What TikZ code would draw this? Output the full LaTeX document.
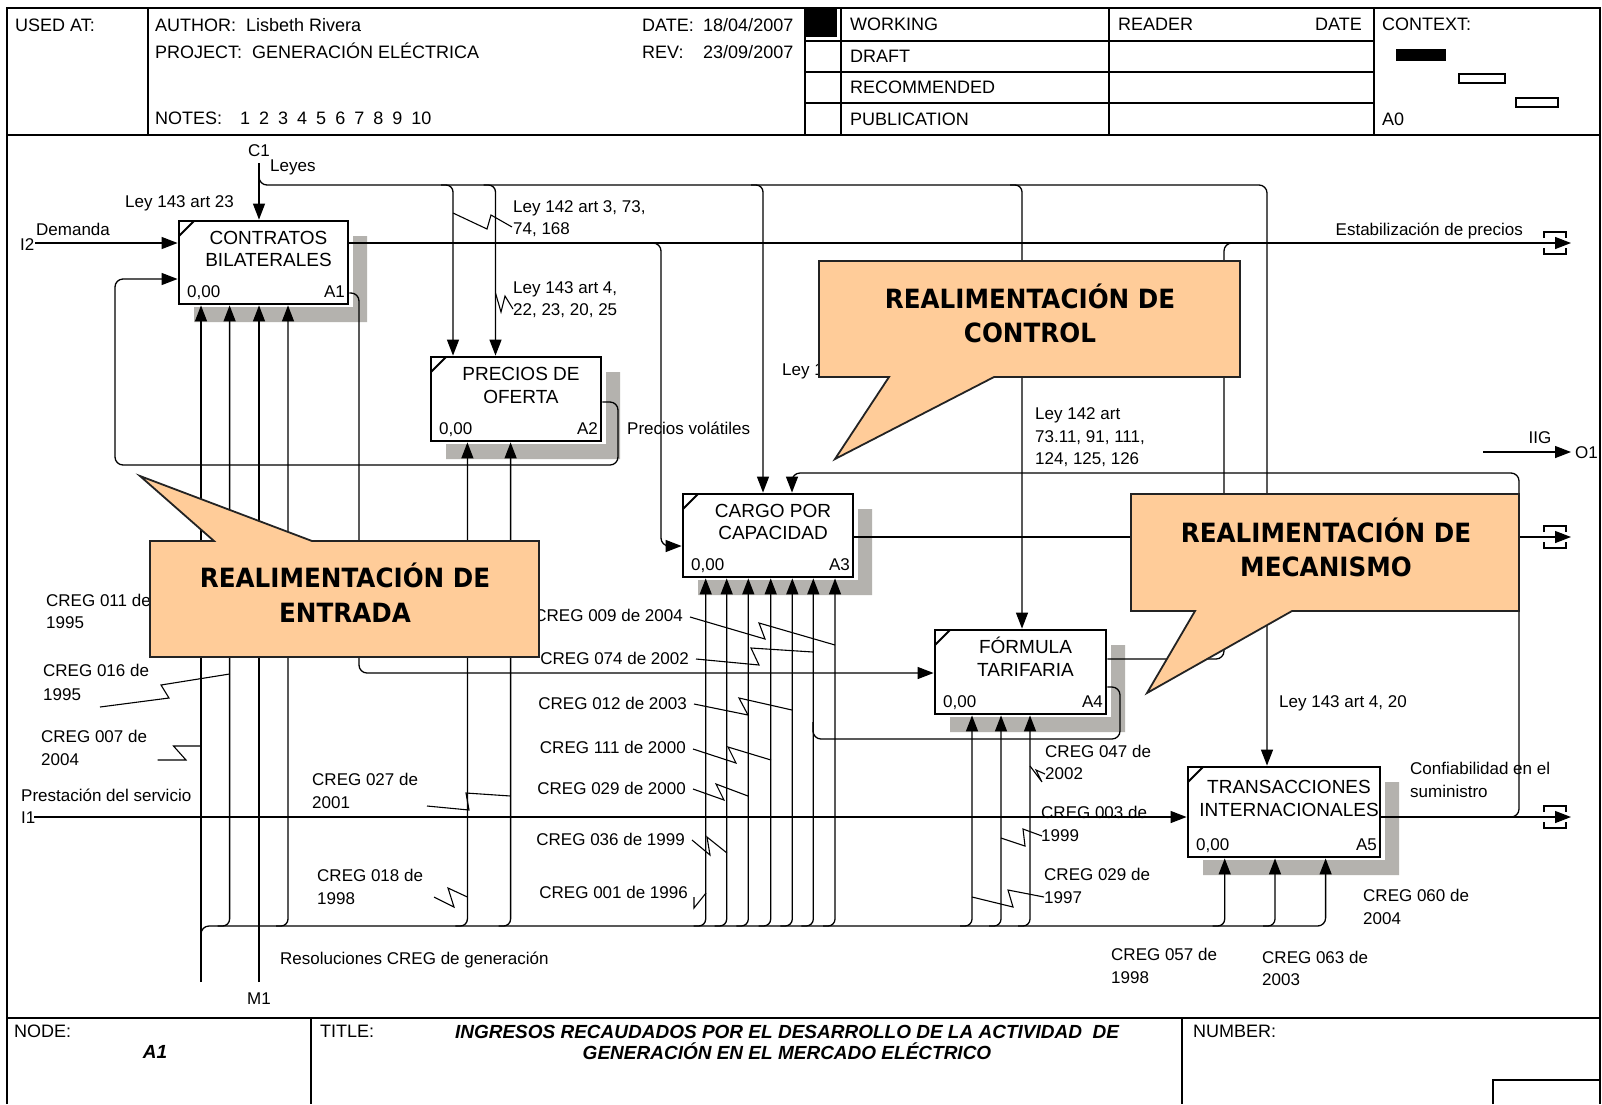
\documentclass[tikz,border=0pt]{standalone}
\usepackage{fontspec}
\setmainfont{Liberation Sans}
\newfontfamily\callfont[FakeStretch=0.93]{DejaVu Sans}
\usetikzlibrary{arrows.meta,calc}
\definecolor{peach}{RGB}{255,204,153}
\definecolor{shadowgray}{RGB}{180,178,174}
\definecolor{callborder}{RGB}{35,35,35}
\tikzset{
  hframe/.style={line width=1.8pt},
  conn/.style={line width=1.3pt},
  arr/.style={line width=1.3pt,-{Triangle[length=16pt,width=12pt]}},
  leadline/.style={line width=1.1pt},
  actbox/.style={draw,line width=2.8pt,fill=white,inner sep=0pt},
  lbl/.style={inner sep=0pt,anchor=base west,font=\fontsize{17}{20}\selectfont},
  lblr/.style={lbl,anchor=base east},
  lblc/.style={lbl,anchor=base},
  hdr/.style={inner sep=0pt,anchor=base west,font=\fontsize{18}{21}\selectfont},
  boxtxt/.style={inner sep=0pt,anchor=base,font=\fontsize{19}{22}\selectfont},
  callshape/.style={fill=peach,draw=callborder,line width=1.8pt,line join=miter},
  calltxt/.style={inner sep=0pt,anchor=base,font=\callfont\bfseries\fontsize{26.5}{32}\selectfont},
  ttl/.style={inner sep=0pt,anchor=base,font=\fontsize{19}{22}\selectfont\bfseries\itshape},
}
\newcommand{\idefshadow}[4]{%
  \fill[shadowgray] (#3+5,#2+15) -- (#3+19,#2+15) -- (#3+19,#4+18) -- (#1+15,#4+18) -- (#1+15,#4+3) -- (#3+5,#4+3) -- cycle;}
\newcommand{\idefbox}[8]{%
  \idefshadow{#2}{#3}{#4}{#5}
  \node[actbox,minimum width={#4-#2},minimum height={#5-#3}] (#1) at ({(#2+#4)/2},{(#3+#5)/2}) {};
  \draw[line width=2pt] (#2,#3+15) -- (#2+15,#3);
  \node[boxtxt] (#1-t1) at ({(#2+#4)/2+5},{(#3+#5)/2-25+6.8}) {#6};
  \node[boxtxt] (#1-t2) at ({(#2+#4)/2+5},{(#3+#5)/2-2.5+6.8}) {#7};
  \node[lbl] (#1-cost) at (#2+8,#5-7) {0,00};
  \node[lblr] (#1-num) at (#4-3,#5-7) {#8};
}
\begin{document}
\begin{tikzpicture}[x=1pt,y=-1pt]
\useasboundingbox (0,0) rectangle (1602,1104);
\fill[white] (0,0) rectangle (1602,1104);
% ---------- frame and header ----------
\draw[hframe] (7,1104) -- (7,8) -- (1600,8) -- (1600,1104);
\draw[hframe] (7,135) -- (1600,135);
\draw[hframe] (148,8) -- (148,135);
\draw[hframe] (805,8) -- (805,135);
\draw[hframe] (841,8) -- (841,135);
\draw[hframe] (1109,8) -- (1109,135);
\draw[hframe] (1374,8) -- (1374,135);
\foreach \yy in {40.7,71.7,103.3} \draw[hframe] (805,\yy) -- (1374,\yy);
\fill (805,8) rectangle (837,37);
\fill (1396,49) rectangle (1446,61);
\draw[line width=1.2pt] (1459,74) rectangle (1505,83);
\draw[line width=1.2pt] (1516,98) rectangle (1558,107);
\node[hdr] (h-used) at (15,31.5) {USED AT:};
\node[hdr] (h-author) at (155,31.5) {AUTHOR:\ \ Lisbeth Rivera};
\node[hdr] (h-date) at (642,31.5) {DATE:};
\node[hdr] (h-dateval) at (703,31.5) {18/04/2007};
\node[hdr] (h-project) at (155,58.5) {PROJECT:\ \ GENERACIÓN ELÉCTRICA};
\node[hdr] (h-rev) at (642,58.5) {REV:};
\node[hdr] (h-revval) at (703,58.5) {23/09/2007};
\node[hdr] (h-notes) at (155,124.5) {\spaceskip=0.5em NOTES:\ \ 1 2 3 4 5 6 7 8 9 10};
\node[hdr] (h-working) at (850,30.5) {WORKING};
\node[hdr] (h-draft) at (850,62.5) {DRAFT};
\node[hdr] (h-recom) at (850,93.5) {RECOMMENDED};
\node[hdr] (h-pub) at (850,125) {PUBLICATION};
\node[hdr] (h-reader) at (1118,30.5) {READER};
\node[hdr,anchor=base east] (h-rdate) at (1362,30.5) {DATE};
\node[hdr] (h-context) at (1382,30.5) {CONTEXT:};
\node[hdr] (h-a0) at (1382,125) {A0};
% ---------- footer ----------
\draw[hframe] (7,1018) -- (1600,1018);
\draw[hframe] (311,1018) -- (311,1104);
\draw[hframe] (1182,1018) -- (1182,1104);
\draw[hframe] (1493,1104) -- (1493,1080) -- (1600,1080);
\node[hdr] (f-node) at (14,1037.5) {NODE:};
\node[hdr] (f-title) at (320,1037.5) {TITLE:};
\node[hdr] (f-number) at (1193,1037.5) {NUMBER:};
\node[ttl] (f-a1) at (155,1058.5) {A1};
\node[ttl] (f-t1) at (787,1038) {INGRESOS RECAUDADOS POR EL DESARROLLO DE LA ACTIVIDAD\ \ DE};
\node[ttl] (f-t2) at (787,1059) {GENERACIÓN EN EL MERCADO ELÉCTRICO};
% ---------- activity boxes ----------
\idefbox{a1}{179}{221}{348}{304}{CONTRATOS}{BILATERALES}{A1}
\idefbox{a2}{431}{357}{601}{441}{PRECIOS DE}{OFERTA}{A2}
\idefbox{a3}{683}{494}{853}{577}{CARGO POR}{CAPACIDAD}{A3}
\idefbox{a4}{935}{630}{1106}{714}{FÓRMULA}{TARIFARIA}{A4}
\idefbox{a5}{1188}{767}{1380}{857}{TRANSACCIONES}{INTERNACIONALES}{A5}
% ---------- boundary points ----------
\coordinate (c1in) at (259,163);
\coordinate (i2in) at (35,243);
\coordinate (i1in) at (34,817);
\coordinate (m1in) at (259,982);
\coordinate (mbin) at (201,982);
\coordinate (o2out) at (1571,243);
\coordinate (o3out) at (1571,537);
\coordinate (o4out) at (1571,817);
\coordinate (o1in) at (1483,452);
\coordinate (o1out) at (1571,452);
% ---------- controls ----------
\draw[arr] (c1in) -- (a1.north -| c1in);
\draw[arr,rounded corners=8] (259,168) |- (1267,185) -- (a5.north -| 1267,0);
\foreach \x/\n in {453/a2,495.5/a2,763/a3,1022/a4}
  \draw[arr,rounded corners=7] (\x-12,185) -| (\n.north -| \x,0);
\draw[arr,rounded corners=8] (1500,817) -| (1519,473) -| (a3.north -| 792,0);
% ---------- inputs ----------
\draw[arr] (i2in) -- (a1.west |- i2in);
\draw[arr] (i1in) -- (a5.west |- i1in);
\draw[arr,rounded corners=8] (a2.east |- 0,402) -| (618,465) -| (115,279) -- (a1.west |- 0,279);
\draw[arr,rounded corners=8] (648,243) -| (661,546) -- (a3.west |- 0,546);
\draw[arr,rounded corners=8] (a1.east |- 0,293) -| (359,673) -- (a4.west |- 0,673);
% ---------- outputs ----------
\draw[arr] (a1.east |- 0,243) -- (o2out);
\draw[arr] (a3.east |- 0,537) -- (o3out);
\draw[arr] (a5.east |- 0,817) -- (o4out);
\draw[arr] (o1in) -- (o1out);
\draw[conn,rounded corners=8] (a4.east |- 0,659) -| (1224,243) -- (1240,243);
\draw[conn,rounded corners=8] (a4.east |- 0,687) -| (1120,739) -| (813,722);
\foreach \yy in {243,537,817} {
  \draw[line width=1.3pt] (1544,\yy-5) -- (1544,\yy-11) -- (1566,\yy-11) -- (1566,\yy-5);
  \draw[line width=1.3pt] (1544,\yy+5) -- (1544,\yy+11) -- (1566,\yy+11) -- (1566,\yy+5);
}
% ---------- mechanisms ----------
\draw[arr] (mbin) -- (a1.south -| mbin);
\draw[arr] (m1in) -- (a1.south -| m1in);
\draw[arr,rounded corners=8] (201,945) |- (1325.6,926) -- (a5.south -| 1325.6,0);
\foreach \x in {229.6,288} \draw[arr,rounded corners=7] (\x-12,926) -| (a1.south -| \x,0);
\foreach \x in {467.4,510.6} \draw[arr,rounded corners=7] (\x-12,926) -| (a2.south -| \x,0);
\foreach \x in {705.7,726.7,748.3,770.7,792.3,813.3,835} \draw[arr,rounded corners=7] (\x-12,926) -| (a3.south -| \x,0);
\foreach \x in {972,1001,1030} \draw[arr,rounded corners=7] (\x-12,926) -| (a4.south -| \x,0);
\foreach \x in {1224.7,1275} \draw[arr,rounded corners=7] (\x-12,926) -| (a5.south -| \x,0);
% ---------- squiggle leaders ----------
\draw[leadline] (453,213) -- (487,229) -- (491,215) -- (512,227);
\draw[leadline] (495.5,293) -- (501,312) -- (505,296) -- (513,309);
\draw[leadline] (100,707) -- (169,698) -- (161,685) -- (229.6,674);
\draw[leadline] (157.5,760) -- (186,760) -- (173.5,746) -- (201,746);
\draw[leadline] (427,806) -- (469,810) -- (466,793) -- (510.6,796);
\draw[leadline] (434,897) -- (454,907) -- (448,888) -- (467.4,897);
\draw[leadline] (690,617) -- (765,639) -- (759,623) -- (835,645);
\draw[leadline] (696,659) -- (759,665) -- (751,648) -- (813,652);
\draw[leadline] (694,704) -- (748,715) -- (739,698) -- (792,710);
\draw[leadline] (693,749) -- (736,763) -- (728,747) -- (771,760);
\draw[leadline] (693,789) -- (724,800) -- (716,784) -- (748,796);
\draw[leadline] (692,840) -- (710,855) -- (707,837) -- (727,853);
\draw[leadline] (694,897) -- (694,908) -- (706,893);
\draw[leadline] (1030,766) -- (1042,782) -- (1036,770) -- (1045,774);
\draw[leadline] (1001,838) -- (1025,846) -- (1023,829) -- (1042,836);
\draw[leadline] (972,897) -- (1013,907) -- (1008,890) -- (1044,897);
% ---------- labels ----------
\node[lblc] (l-c1) at (259,156) {C1};
\node[lbl] (l-leyes) at (270,171) {Leyes};
\node[lbl] (l-l143-23) at (125,207) {Ley 143 art 23};
\node[lbl] (l-i2) at (20,250) {I2};
\node[lbl] (l-demanda) at (36,235) {Demanda};
\node[lbl] (l-l142a) at (513,212) {Ley 142 art 3, 73,};
\node[lbl] (l-l142b) at (513,234) {74, 168};
\node[lbl] (l-l143a) at (513,293) {Ley 143 art 4,};
\node[lbl] (l-l143b) at (513,315) {22, 23, 20, 25};
\node[lbl] (l-precios) at (627,434) {Precios volátiles};
\node[lbl] (l-ley1) at (782,375) {Ley 1};
\node[lbl] (l-l142c) at (1035,419) {Ley 142 art};
\node[lbl] (l-l142d) at (1035,442) {73.11, 91, 111,};
\node[lbl] (l-l142e) at (1035,464) {124, 125, 126};
\node[lblr] (l-estab) at (1523,235) {Estabilización de precios};
\node[lblc] (l-iig) at (1540,443) {IIG};
\node[lbl] (l-o1) at (1575,458) {O1};
\node[lbl] (l-c011a) at (46,606) {CREG 011 de};
\node[lbl] (l-c011b) at (46,628) {1995};
\node[lbl] (l-c016a) at (43,676) {CREG 016 de};
\node[lbl] (l-c016b) at (43,700) {1995};
\node[lbl] (l-c007a) at (41,742) {CREG 007 de};
\node[lbl] (l-c007b) at (41,765) {2004};
\node[lbl] (l-prest) at (21,801) {Prestación del servicio};
\node[lbl] (l-i1) at (21,823) {I1};
\node[lbl] (l-c027a) at (312,785) {CREG 027 de};
\node[lbl] (l-c027b) at (312,808) {2001};
\node[lbl] (l-c018a) at (317,881) {CREG 018 de};
\node[lbl] (l-c018b) at (317,904) {1998};
\node[lblr] (l-c009) at (683,621) {CREG 009 de 2004};
\node[lblr] (l-c074) at (689,664) {CREG 074 de 2002};
\node[lblr] (l-c012) at (687,709) {CREG 012 de 2003};
\node[lblr] (l-c111) at (686,753) {CREG 111 de 2000};
\node[lblr] (l-c029) at (686,794) {CREG 029 de 2000};
\node[lblr] (l-c036) at (685,845) {CREG 036 de 1999};
\node[lblr] (l-c001) at (688,898) {CREG 001 de 1996};
\node[lbl] (l-c047a) at (1045,757) {CREG 047 de};
\node[lbl] (l-c047b) at (1045,779) {2002};
\node[lbl] (l-c003a) at (1041,818) {CREG 003 de};
\node[lbl] (l-c003b) at (1041,841) {1999};
\node[lbl] (l-c029ba) at (1044,880) {CREG 029 de};
\node[lbl] (l-c029bb) at (1044,903) {1997};
\node[lbl] (l-l143c) at (1279,707) {Ley 143 art 4, 20};
\node[lbl] (l-conf) at (1410,774) {Confiabilidad en el};
\node[lbl] (l-sum) at (1410,797) {suministro};
\node[lbl] (l-c060a) at (1363,901) {CREG 060 de};
\node[lbl] (l-c060b) at (1363,924) {2004};
\node[lbl] (l-c057a) at (1111,960) {CREG 057 de};
\node[lbl] (l-c057b) at (1111,983) {1998};
\node[lbl] (l-c063a) at (1262,963) {CREG 063 de};
\node[lbl] (l-c063b) at (1262,985) {2003};
\node[lbl] (l-resol) at (280,964) {Resoluciones CREG de generación};
\node[lblc] (l-m1) at (259,1004) {M1};
% ---------- callouts ----------
\draw[callshape] (819,261) -- (1240,261) -- (1240,377) -- (994,377) -- (835,459) -- (889,377) -- (819,377) -- cycle;
\node[calltxt] (k-ctl1) at (1030,308.7) {REALIMENTACIÓN DE};
\node[calltxt] (k-ctl2) at (1030,342.7) {CONTROL};
\draw[callshape] (1131,494) -- (1519,494) -- (1519,611) -- (1292,611) -- (1147,693) -- (1195,611) -- (1131,611) -- cycle;
\node[calltxt] (k-mec1) at (1326,542.4) {REALIMENTACIÓN DE};
\node[calltxt] (k-mec2) at (1326,576.4) {MECANISMO};
\draw[callshape] (150,541) -- (214,541) -- (140,476) -- (312,541) -- (539,541) -- (539,657) -- (150,657) -- cycle;
\node[calltxt] (k-ent1) at (345,587.7) {REALIMENTACIÓN DE};
\node[calltxt] (k-ent2) at (345,622.7) {ENTRADA};
\end{tikzpicture}
\end{document}
